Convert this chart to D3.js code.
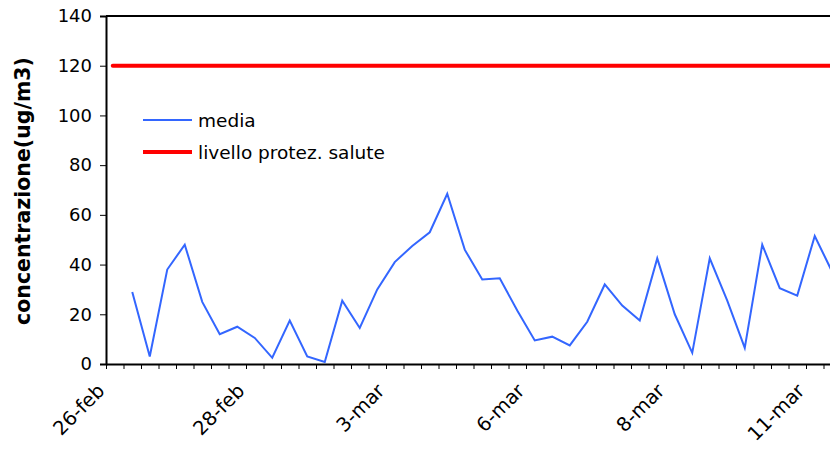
<!DOCTYPE html>
<html>
<head>
<meta charset="utf-8">
<script src="https://cdn.jsdelivr.net/npm/d3@7"></script>
<style>
body { margin: 0; background: #fff; }
svg { display: block; font-family: "DejaVu Sans", sans-serif; }
.axis path, .axis line { stroke: #000; }
</style>
</head>
<body>
<div id="chart"></div>
<script>
// one category every 8 hours, starting 26-feb 00:00
var media = [null, 29, 3, 38, 48, 25, 12, 15, 10.5, 2.5, 17.5, 3, 0.8, 25.5, 14.5, 30, 41, 47.5, 53, 68.5,
    46, 34, 34.5, 21.5, 9.5, 11, 7.5, 17, 32, 23.5, 17.5, 42.5, 20, 4.5, 42.5, 25.5, 6.5, 48, 30.5, 27.5, 51.5, 37];
var limite = 120;
var tickLabels = ['26-feb', '28-feb', '3-mar', '6-mar', '8-mar', '11-mar'];
var labelEvery = 8;
var yTicks = [0, 20, 40, 60, 80, 100, 120, 140];
var nCat = 42;

var W = 830, H = 450;
var margin = {top: 16, left: 106};
var height = 348, width = nCat * 17.5;

var svg = d3.select('#chart').append('svg')
    .attr('width', W)
    .attr('height', H);

var x = d3.scaleLinear().domain([0, nCat]).range([0, width]);
var y = d3.scaleLinear().domain([0, 140]).range([height, 0]);

var g = svg.append('g')
    .attr('transform', 'translate(' + margin.left + ',' + margin.top + ')');

// top border
g.append('line')
    .attr('x1', 0).attr('x2', width)
    .attr('y1', y(140)).attr('y2', y(140))
    .attr('stroke', '#000').attr('stroke-width', 2);

// y axis
var ya = g.append('g')
    .attr('class', 'axis')
    .call(d3.axisLeft(y).tickValues(yTicks).tickSize(6).tickPadding(8));
ya.select('.domain').attr('stroke-width', 2);
ya.selectAll('text').attr('font-size', 18).attr('fill', '#000').attr('font-family', '"DejaVu Sans", sans-serif');

// x axis
var xa = g.append('g')
    .attr('class', 'axis')
    .attr('transform', 'translate(0,' + height + ')')
    .call(d3.axisBottom(x).tickValues(d3.range(0, nCat + 1)).tickSize(5).tickSizeOuter(0).tickFormat(''));
xa.select('.domain').attr('stroke-width', 2);
xa.selectAll('.tick line').attr('stroke', '#444');

tickLabels.forEach(function(t, k) {
    var cx = x(k * labelEvery + 0.5);
    g.append('text')
        .attr('transform', 'translate(' + (cx - 9) + ',' + (height + 28) + ') rotate(-45)')
        .attr('text-anchor', 'end')
        .attr('font-size', 19.5)
        .text(t);
});

// y title
svg.append('text')
    .attr('transform', 'translate(30,' + 191 + ') rotate(-90)')
    .attr('text-anchor', 'middle')
    .attr('font-size', 20.5)
    .attr('font-weight', 'bold')
    .text('concentrazione(ug/m3)');

// limit line
g.append('line')
    .attr('x1', x(0.5) - 2).attr('x2', width)
    .attr('y1', y(limite)).attr('y2', y(limite))
    .attr('stroke', '#ff0000').attr('stroke-width', 4).attr('stroke-linecap', 'round');

// media line
var line = d3.line()
    .defined(function(d) { return d != null; })
    .x(function(d, i) { return x(i + 0.5); })
    .y(function(d) { return y(d); });

g.append('path')
    .datum(media)
    .attr('fill', 'none')
    .attr('stroke', '#3366ff')
    .attr('stroke-width', 2)
    .attr('d', line);

// legend
var legend = [
    {name: 'media', color: '#3366ff', w: 2},
    {name: 'livello protez. salute', color: '#ff0000', w: 4}
];
var lg = svg.append('g').attr('transform', 'translate(143,120)');
legend.forEach(function(l, i) {
    lg.append('line')
        .attr('x1', 0).attr('x2', 49)
        .attr('y1', i * 32).attr('y2', i * 32)
        .attr('stroke', l.color).attr('stroke-width', l.w);
    lg.append('text')
        .attr('x', 55).attr('y', i * 32 + 7)
        .attr('font-size', 18.5)
        .text(l.name);
});
</script>
</body>
</html>
